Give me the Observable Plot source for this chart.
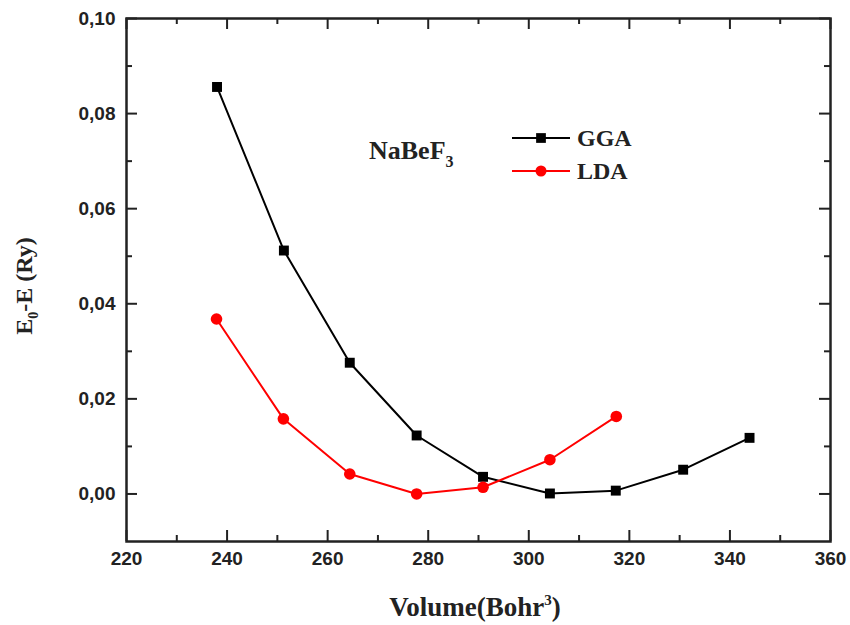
<!DOCTYPE html>
<html><head><meta charset="utf-8">
<script src="https://cdn.jsdelivr.net/npm/d3@7"></script>
<script src="https://cdn.jsdelivr.net/npm/@observablehq/plot@0.6"></script>
<style>body{margin:0;background:#fff}#chart{width:850px;height:625px}</style>
</head><body><div id="chart"></div>
<script>
// ---- data ----
const ggaVolume = [238.0, 251.3, 264.4, 277.7, 290.9, 304.2, 317.3, 330.7, 343.9];
const ggaEnergy = [0.0856, 0.0512, 0.0276, 0.0123, 0.0036, 0.0001, 0.0007, 0.0051, 0.0118];
const ldaVolume = [237.9, 251.2, 264.4, 277.7, 290.9, 304.2, 317.4];
const ldaEnergy = [0.0368, 0.0158, 0.0042, 0.0000, 0.0014, 0.0072, 0.0163];
const seriesNames = ["GGA", "LDA"];
const xMajorTicks = [220, 240, 260, 280, 300, 320, 340, 360];
const xMinorTicks = [230, 250, 270, 290, 310, 330, 350];
const yMajorTicks = [0.00, 0.02, 0.04, 0.06, 0.08, 0.10];
const yMinorTicks = [0.01, 0.03, 0.05, 0.07, 0.09];
const compoundLabel = ["NaBeF", "3"];

const gga = ggaVolume.map((v, i) => ({volume: v, energy: ggaEnergy[i]}));
const lda = ldaVolume.map((v, i) => ({volume: v, energy: ldaEnergy[i]}));

const W = 850, H = 625, mL = 126, mR = 20, mT = 18, mB = 84;
const pW = W - mL - mR, pH = H - mT - mB;
const majorLen = 11, minorLen = 6;
const tickColor = "#222";
const serif = "'Liberation Serif','Times New Roman',serif";
const sans = "'Liberation Sans',Arial,sans-serif";

const fmtY = d => d.toFixed(2).replace(".", ",");

const plot = Plot.plot({
  width: W, height: H,
  marginLeft: mL, marginRight: mR, marginTop: mT, marginBottom: mB,
  style: {fontFamily: sans, fontSize: "19px", fontWeight: "bold", color: "#222", background: "#fff"},
  x: {domain: [220, 360], label: null},
  y: {domain: [-0.01, 0.10], label: null},
  marks: [
    // inward ticks: bottom & top
    Plot.tickX(xMajorTicks, {stroke: tickColor, strokeWidth: 2, insetTop: pH - majorLen}),
    Plot.tickX(xMinorTicks, {stroke: tickColor, strokeWidth: 2, insetTop: pH - minorLen}),
    Plot.tickX(xMajorTicks, {stroke: tickColor, strokeWidth: 2, insetBottom: pH - majorLen}),
    Plot.tickX(xMinorTicks, {stroke: tickColor, strokeWidth: 2, insetBottom: pH - minorLen}),
    // inward ticks: left & right
    Plot.tickY(yMajorTicks, {stroke: tickColor, strokeWidth: 2, insetRight: pW - majorLen}),
    Plot.tickY(yMinorTicks, {stroke: tickColor, strokeWidth: 2, insetRight: pW - minorLen}),
    Plot.tickY(yMajorTicks, {stroke: tickColor, strokeWidth: 2, insetLeft: pW - majorLen}),
    Plot.tickY(yMinorTicks, {stroke: tickColor, strokeWidth: 2, insetLeft: pW - minorLen}),
    Plot.axisX({ticks: xMajorTicks, tickSize: 0, tickPadding: 10, tickFormat: d => String(d), label: null}),
    Plot.axisY({ticks: yMajorTicks, tickSize: 0, tickPadding: 11, tickFormat: fmtY, label: null}),
    Plot.frame({stroke: tickColor, strokeWidth: 2.5}),
    Plot.line(gga, {x: "volume", y: "energy", stroke: "#000", strokeWidth: 2}),
    Plot.line(lda, {x: "volume", y: "energy", stroke: "#ff0000", strokeWidth: 2}),
    Plot.dot(gga, {x: "volume", y: "energy", symbol: "square", r: 5.6, fill: "#000", stroke: "none"}),
    Plot.dot(lda, {x: "volume", y: "energy", symbol: "circle", r: 5.8, fill: "#ff0000", stroke: "none"})
  ]
});
document.getElementById("chart").appendChild(plot);

const svg = d3.select(plot);
// x axis label
const xl = svg.append("text")
  .attr("x", mL + pW / 2 - 3).attr("y", 616)
  .attr("text-anchor", "middle")
  .style("font-family", serif).style("font-size", "27px").style("font-weight", "bold").attr("fill", "#222");
xl.append("tspan").text("Volume(Bohr");
xl.append("tspan").text("3").attr("dy", -11).style("font-size", "15px");
xl.append("tspan").text(")").attr("dy", 11);

// y axis label
const yl = svg.append("text")
  .attr("transform", `translate(32,286) rotate(-90)`)
  .attr("text-anchor", "middle")
  .style("font-family", serif).style("font-size", "24px").style("font-weight", "bold").attr("fill", "#222");
yl.append("tspan").text("E");
yl.append("tspan").text("0").attr("dy", 6).style("font-size", "14px");
yl.append("tspan").text("-E (Ry)").attr("dy", -6);

// compound annotation
const cl = svg.append("text")
  .attr("x", 369).attr("y", 159).attr("text-anchor", "start")
  .style("font-family", serif).style("font-size", "26px").style("font-weight", "bold").attr("fill", "#222");
cl.append("tspan").text(compoundLabel[0]);
cl.append("tspan").text(compoundLabel[1]).attr("dy", 8).style("font-size", "16px");

// legend
const legendColors = ["#000", "#ff0000"];
const legendSymbols = [d3.symbolSquare, d3.symbolCircle];
seriesNames.forEach((name, i) => {
  const y = 138 + i * 33;
  const g = svg.append("g");
  g.append("line").attr("x1", 512).attr("x2", 570).attr("y1", y).attr("y2", y)
    .attr("stroke", legendColors[i]).attr("stroke-width", 2);
  g.append("path").attr("transform", `translate(541,${y})`)
    .attr("d", d3.symbol(legendSymbols[i], Math.PI * 5.5 * 5.5)())
    .attr("fill", legendColors[i]);
  g.append("text").attr("x", 577).attr("y", y + 8).attr("text-anchor", "start").text(name)
    .style("font-family", serif).style("font-size", "24px").style("font-weight", "bold").attr("fill", "#222");
});
</script>
</body></html>
